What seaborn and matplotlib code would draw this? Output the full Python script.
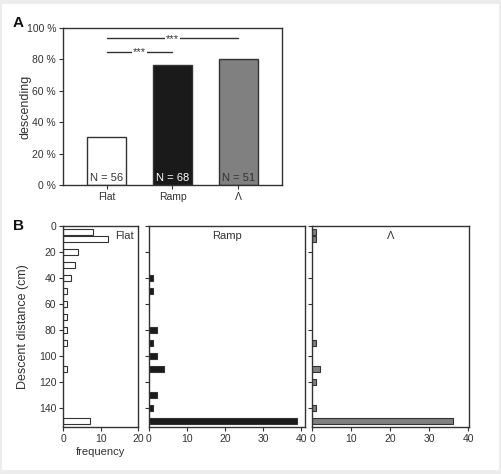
import numpy as np
import pandas as pd
import matplotlib
matplotlib.use("Agg")
import matplotlib.pyplot as plt
from matplotlib.patches import Rectangle
from matplotlib.ticker import FuncFormatter
import seaborn as sns

# Panel A: percent descending per substrate
conditions = ["Flat", "Ramp", "Λ"]
pct_descending = [30.4, 76.5, 80.4]
n_animals = [56, 68, 51]
bar_colors = ["#ffffff", "#1a1a1a", "#808080"]
n_text_colors = ["#333333", "#ffffff", "#333333"]

# Panel B: descent distance histograms (cm -> frequency)
flat_dist = [5, 10, 20, 30, 40, 50, 60, 70, 80, 90, 110, 150]
flat_freq = [8, 12, 4, 3, 2, 1, 1, 1, 1, 1, 1, 7]
ramp_dist = [40, 50, 80, 90, 100, 110, 130, 140, 150]
ramp_freq = [1, 1, 2, 1, 2, 4, 2, 1, 39]
lambda_dist = [5, 10, 90, 110, 120, 140, 150]
lambda_freq = [1, 1, 1, 2, 1, 1, 36]

sns.set_style("ticks")
plt.rcParams["font.family"] = ["Liberation Sans", "DejaVu Sans"]
plt.rcParams["axes.edgecolor"] = "#333333"
plt.rcParams["xtick.color"] = "#333333"
plt.rcParams["ytick.color"] = "#333333"
plt.rcParams["text.color"] = "#333333"
plt.rcParams["axes.labelcolor"] = "#333333"

W, H = 502, 474
fig = plt.figure(figsize=(W / 100, H / 100), dpi=100, facecolor="#ececec")
fig.patches.append(Rectangle((2 / W, 4 / H), 497 / W, 466 / H, transform=fig.transFigure,
                             facecolor="white", edgecolor="none", zorder=-1))

def px_axes(x0, y0, x1, y1):
    return fig.add_axes([x0 / W, 1 - y1 / H, (x1 - x0) / W, (y1 - y0) / H])

TICK_FS = 7.5

# ---------- Panel A ----------
axA = px_axes(63, 28, 282, 185)
dfA = pd.DataFrame({"cond": conditions, "pct": pct_descending})
sns.barplot(data=dfA, x="cond", y="pct", hue="cond", palette=bar_colors, legend=False,
            saturation=1, width=0.6, edgecolor="#333333", linewidth=1.0, ax=axA)
axA.set_xlim(-0.66, 2.66)
axA.set_ylim(0, 100)
axA.set_yticks(range(0, 101, 20))
axA.yaxis.set_major_formatter(FuncFormatter(lambda v, p: f"{v:.0f} %"))
axA.set_xlabel("")
axA.set_ylabel("descending", fontsize=9)
axA.yaxis.set_label_coords(-0.145, 0.5)
axA.tick_params(labelsize=TICK_FS, length=3, width=0.8, pad=2)
for s in axA.spines.values():
    s.set_visible(True)
    s.set_linewidth(1.0)
for i, (n, c) in enumerate(zip(n_animals, n_text_colors)):
    axA.text(i, 1.5, f"N = {n}", ha="center", va="bottom", fontsize=8, color=c)

# significance bars
for (x0, x1, y) in [(0, 2, 93.5), (0, 1, 85)]:
    axA.plot([x0, x1], [y, y], color="#333333", lw=1.0)
    axA.text((x0 + x1) / 2, y - 0.5, "***", ha="center", va="center", fontsize=8,
             bbox=dict(facecolor="white", edgecolor="none", pad=1.0))

fig.text(13 / W, 1 - 23 / H, "A", fontsize=11, fontweight="bold", va="center", color="#111111")

# ---------- Panel B ----------
panels = [
    ("Flat", flat_dist, flat_freq, "#ffffff", (63.3, 138.3), 20, "right"),
    ("Ramp", ramp_dist, ramp_freq, "#1a1a1a", (149, 305), 41, "center"),
    ("Λ", lambda_dist, lambda_freq, "#808080", (312.3, 469), 40.2, "center"),
]
bar_h = 4.8
axes_B = []
for title, dist, freq, col, (x0, x1), xmax, ta in panels:
    ax = px_axes(x0, 225.7, x1, 427.3)
    df = pd.DataFrame({"dist": dist, "freq": freq})
    native = np.min(np.diff(sorted(dist)))
    sns.barplot(data=df, x="freq", y="dist", orient="h", native_scale=True,
                color=col, saturation=1, width=bar_h / native,
                edgecolor="#333333", linewidth=0.8, ax=ax)
    ax.set_ylim(155, 0)
    ax.set_xlim(0, xmax)
    ax.set_yticks(range(0, 141, 20))
    ax.set_xticks(range(0, int(xmax) + 1, 10))
    ax.set_xlabel("")
    ax.set_ylabel("")
    ax.tick_params(labelsize=TICK_FS, length=3, width=0.8, pad=2)
    for s in ax.spines.values():
        s.set_visible(True)
        s.set_linewidth(1.0)
    if ta == "right":
        ax.text(0.94, 0.975, title, transform=ax.transAxes, ha="right", va="top", fontsize=8)
    else:
        ax.text(0.5, 0.975, title, transform=ax.transAxes, ha="center", va="top", fontsize=8)
    axes_B.append(ax)

axes_B[0].set_ylabel("Descent distance (cm)", fontsize=9)
axes_B[0].yaxis.set_label_coords(-0.46, 0.5)
axes_B[0].set_xlabel("frequency", fontsize=8, labelpad=2)
axes_B[1].set_yticklabels([])
axes_B[2].set_yticklabels([])

fig.text(13 / W, 1 - 226 / H, "B", fontsize=11, fontweight="bold", va="center", color="#111111")

fig.savefig("out.png", dpi=100, facecolor=fig.get_facecolor())
